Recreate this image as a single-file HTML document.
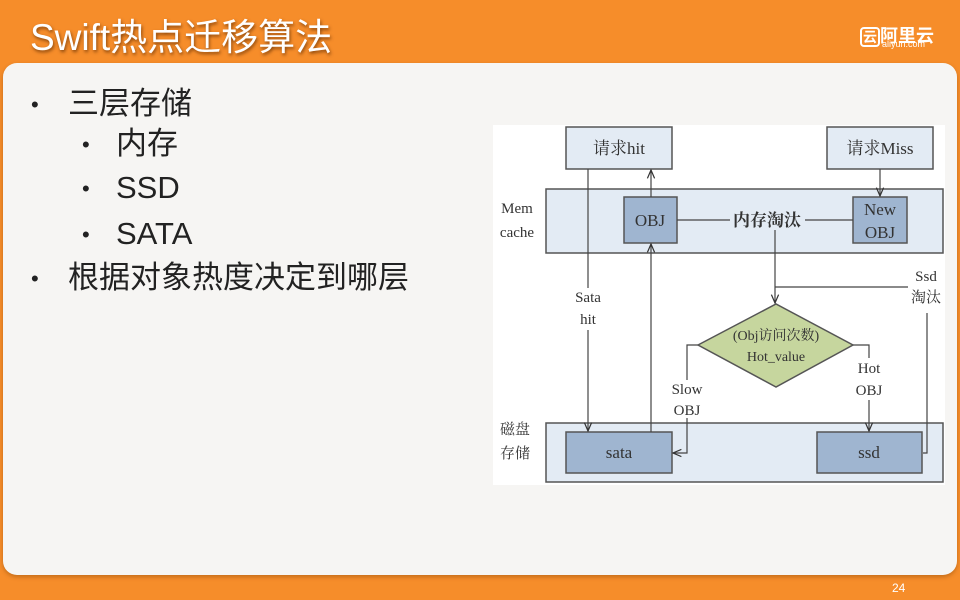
<!DOCTYPE html>
<html><head><meta charset="utf-8"><style>
body{margin:0;width:960px;height:600px;overflow:hidden;background:#f68d2a;font-family:"Liberation Sans","Noto Sans CJK SC",sans-serif;position:relative}
.panel{position:absolute;left:3px;top:63px;width:954px;height:512px;background:#f6f5f3;border-radius:14px;box-shadow:0 2px 4px rgba(120,60,0,.4)}
.title{position:absolute;left:30px;top:16px;font-size:37px;line-height:44px;color:#fff;text-shadow:1px 2px 3px rgba(90,40,0,.7)}
.t{position:absolute;color:#222;font-size:31px;line-height:34px}
.b{position:absolute;color:#222;font-size:22px;line-height:34px}
.logo{position:absolute;left:860px;top:22px;color:#fff;font-size:18px;font-weight:bold}
.logo small{position:absolute;left:22px;top:17px;font-size:9px;font-weight:normal}
.num{position:absolute;left:892px;top:581px;color:#fff;font-size:12px}
</style></head><body>
<div class="title">Swift热点迁移算法</div>
<div class="logo"><span style="border:2px solid #fff;border-radius:4px;padding:0 1px;font-size:14px">云</span>阿里云<small>aliyun.com</small></div>
<div class="panel"></div>
<div class="b" style="left:31px;top:88px">•</div><div class="t" style="left:68px;top:87px">三层存储</div>
<div class="b" style="left:82px;top:128px">•</div><div class="t" style="left:116px;top:127px">内存</div>
<div class="b" style="left:82px;top:172px">•</div><div class="t" style="left:116px;top:171px">SSD</div>
<div class="b" style="left:82px;top:218px">•</div><div class="t" style="left:116px;top:217px">SATA</div>
<div class="b" style="left:31px;top:262px">•</div><div class="t" style="left:68px;top:261px">根据对象热度决定到哪层</div>
<div class="num">24</div>
<svg width="960" height="600" style="position:absolute;left:0;top:0" font-family="Liberation Serif,Noto Serif CJK SC,serif">
<defs><marker id="a" markerWidth="8" markerHeight="8" refX="7" refY="4" orient="auto"><path d="M0,1 L7,4 L0,7" fill="none" stroke="#333" stroke-width="1"/></marker></defs>
<rect x="493" y="125" width="452" height="360" fill="#fff"/>
<g stroke="#555" stroke-width="1.5">
<rect x="546" y="189" width="397" height="64" fill="#e3ebf4"/>
<rect x="546" y="423" width="397" height="59" fill="#e3ebf4"/>
<rect x="566" y="127" width="106" height="42" fill="#e3ebf4"/>
<rect x="827" y="127" width="106" height="42" fill="#e3ebf4"/>
<rect x="624" y="197" width="53" height="46" fill="#9fb5d0"/>
<rect x="853" y="197" width="54" height="46" fill="#9fb5d0"/>
<rect x="566" y="432" width="106" height="41" fill="#9fb5d0"/>
<rect x="817" y="432" width="105" height="41" fill="#9fb5d0"/>
<polygon points="698,345 776,304 853,345 776,387" fill="#c6d69e"/>
</g>
<g stroke="#444" stroke-width="1.2" fill="none">
<line x1="588" y1="169" x2="588" y2="288"/><line x1="588" y1="330" x2="588" y2="431" marker-end="url(#a)"/>
<line x1="651" y1="432" x2="651" y2="244" marker-end="url(#a)"/>
<line x1="651" y1="197" x2="651" y2="170" marker-end="url(#a)"/>
<line x1="880" y1="169" x2="880" y2="196" marker-end="url(#a)"/>
<line x1="677" y1="220" x2="730" y2="220"/><line x1="805" y1="220" x2="853" y2="220"/>
<line x1="775" y1="230" x2="775" y2="303" marker-end="url(#a)"/>
<line x1="775" y1="287" x2="908" y2="287"/>
<polyline points="927,313 927,453 923,453"/>
<polyline points="698,345 687,345 687,380"/><polyline points="687,418 687,453 673,453" marker-end="url(#a)"/>
<polyline points="853,345 869,345 869,358"/><line x1="869" y1="400" x2="869" y2="431" marker-end="url(#a)"/>
</g>
<g font-size="17" fill="#333" text-anchor="middle">
<text x="619" y="154">请求hit</text><text x="880" y="154">请求Miss</text>
<text x="650" y="226">OBJ</text><text x="880" y="215">New</text><text x="880" y="238">OBJ</text>
<text x="767" y="226" font-weight="bold">内存淘汰</text>
<text x="619" y="458">sata</text><text x="869" y="458">ssd</text>
<text x="776" y="340" font-size="14">(Obj访问次数)</text><text x="776" y="361" font-size="14">Hot_value</text>
</g>
<g font-size="15" fill="#333" text-anchor="middle">
<text x="517" y="213">Mem</text><text x="517" y="237">cache</text>
<text x="515" y="434">磁盘</text><text x="515" y="458">存储</text>
<text x="588" y="302">Sata</text><text x="588" y="324">hit</text>
<text x="926" y="281">Ssd</text><text x="926" y="302">淘汰</text>
<text x="687" y="394">Slow</text><text x="687" y="415">OBJ</text>
<text x="869" y="373">Hot</text><text x="869" y="395">OBJ</text>
</g>
</svg>
</body></html>
